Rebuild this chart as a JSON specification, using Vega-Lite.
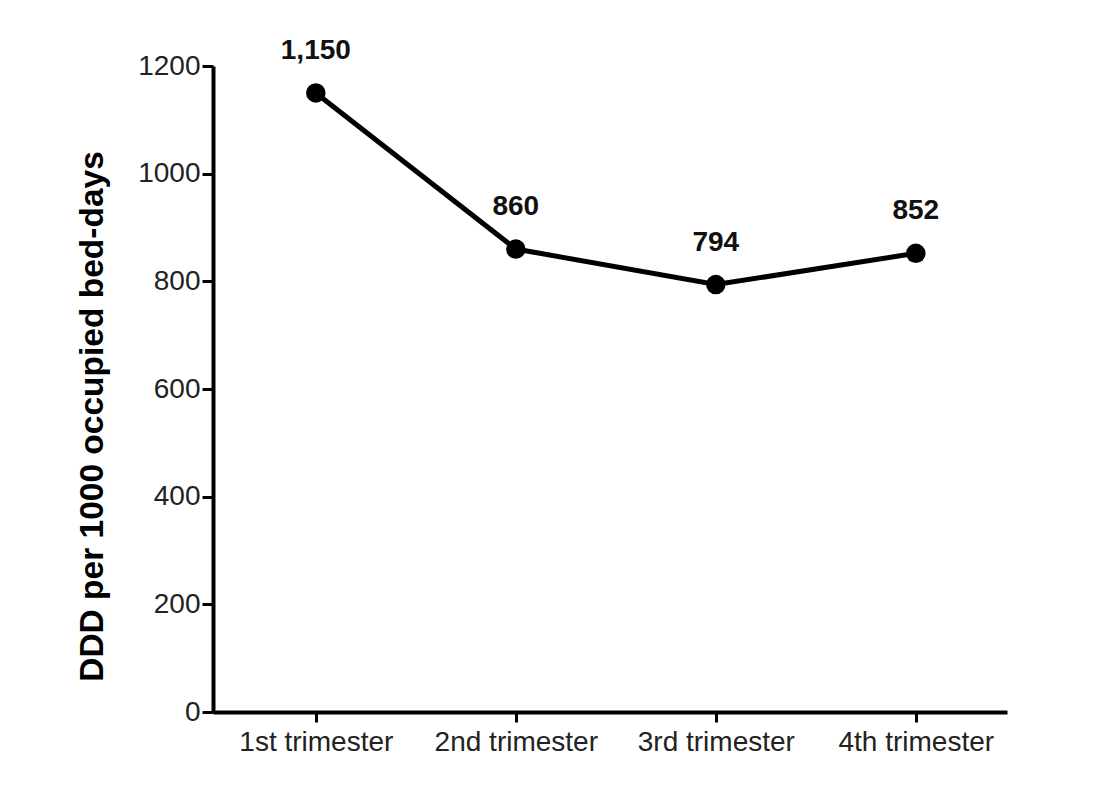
{
  "$schema": "https://vega.github.io/schema/vega-lite/v6.json",
  "width": 794,
  "height": 646,
  "autosize": {"type": "none"},
  "padding": {"left": 213, "top": 66, "right": 110, "bottom": 88},
  "background": "white",
  "config": {
    "view": {"stroke": null},
    "font": "Liberation Sans"
  },
  "data": {
    "values": [
      {"period": "1st trimester", "ddd": 1150},
      {"period": "2nd trimester", "ddd": 860},
      {"period": "3rd trimester", "ddd": 794},
      {"period": "4th trimester", "ddd": 852}
    ]
  },
  "encoding": {
    "x": {
      "field": "period",
      "type": "nominal",
      "sort": null,
      "scale": {"type": "point", "padding": 0.485, "align": 0.53},
      "axis": {
        "title": null,
        "labelAngle": 0,
        "labelFont": "Liberation Sans",
        "labelFontSize": 28,
        "labelColor": "#222222",
        "labelPadding": 6,
        "tickSize": 10,
        "tickWidth": 3,
        "tickColor": "#000000",
        "domainColor": "#000000",
        "domainWidth": 4,
        "grid": false
      }
    },
    "y": {
      "field": "ddd",
      "type": "quantitative",
      "scale": {"domain": [0, 1200], "nice": false},
      "axis": {
        "title": "DDD per 1000 occupied bed-days",
        "titleFont": "Liberation Sans",
        "titleFontSize": 33.5,
        "titleFontWeight": "bold",
        "titleColor": "#000000",
        "titleY": 350,
        "titlePadding": 28,
        "values": [0, 200, 400, 600, 800, 1000, 1200],
        "format": "d",
        "labelFont": "Liberation Sans",
        "labelFontSize": 28,
        "labelColor": "#222222",
        "labelPadding": 2,
        "tickSize": 11,
        "tickWidth": 3,
        "tickColor": "#000000",
        "domainColor": "#000000",
        "domainWidth": 4,
        "grid": false
      }
    }
  },
  "layer": [
    {
      "mark": {"type": "line", "color": "#000000", "strokeWidth": 5}
    },
    {
      "mark": {"type": "point", "filled": true, "color": "#000000", "size": 380, "opacity": 1}
    },
    {
      "mark": {
        "type": "text",
        "font": "Liberation Sans",
        "fontSize": 28,
        "fontWeight": "bold",
        "color": "#111111",
        "baseline": "alphabetic",
        "dy": -34
      },
      "encoding": {
        "text": {"field": "ddd", "type": "quantitative", "format": ","}
      }
    }
  ]
}
